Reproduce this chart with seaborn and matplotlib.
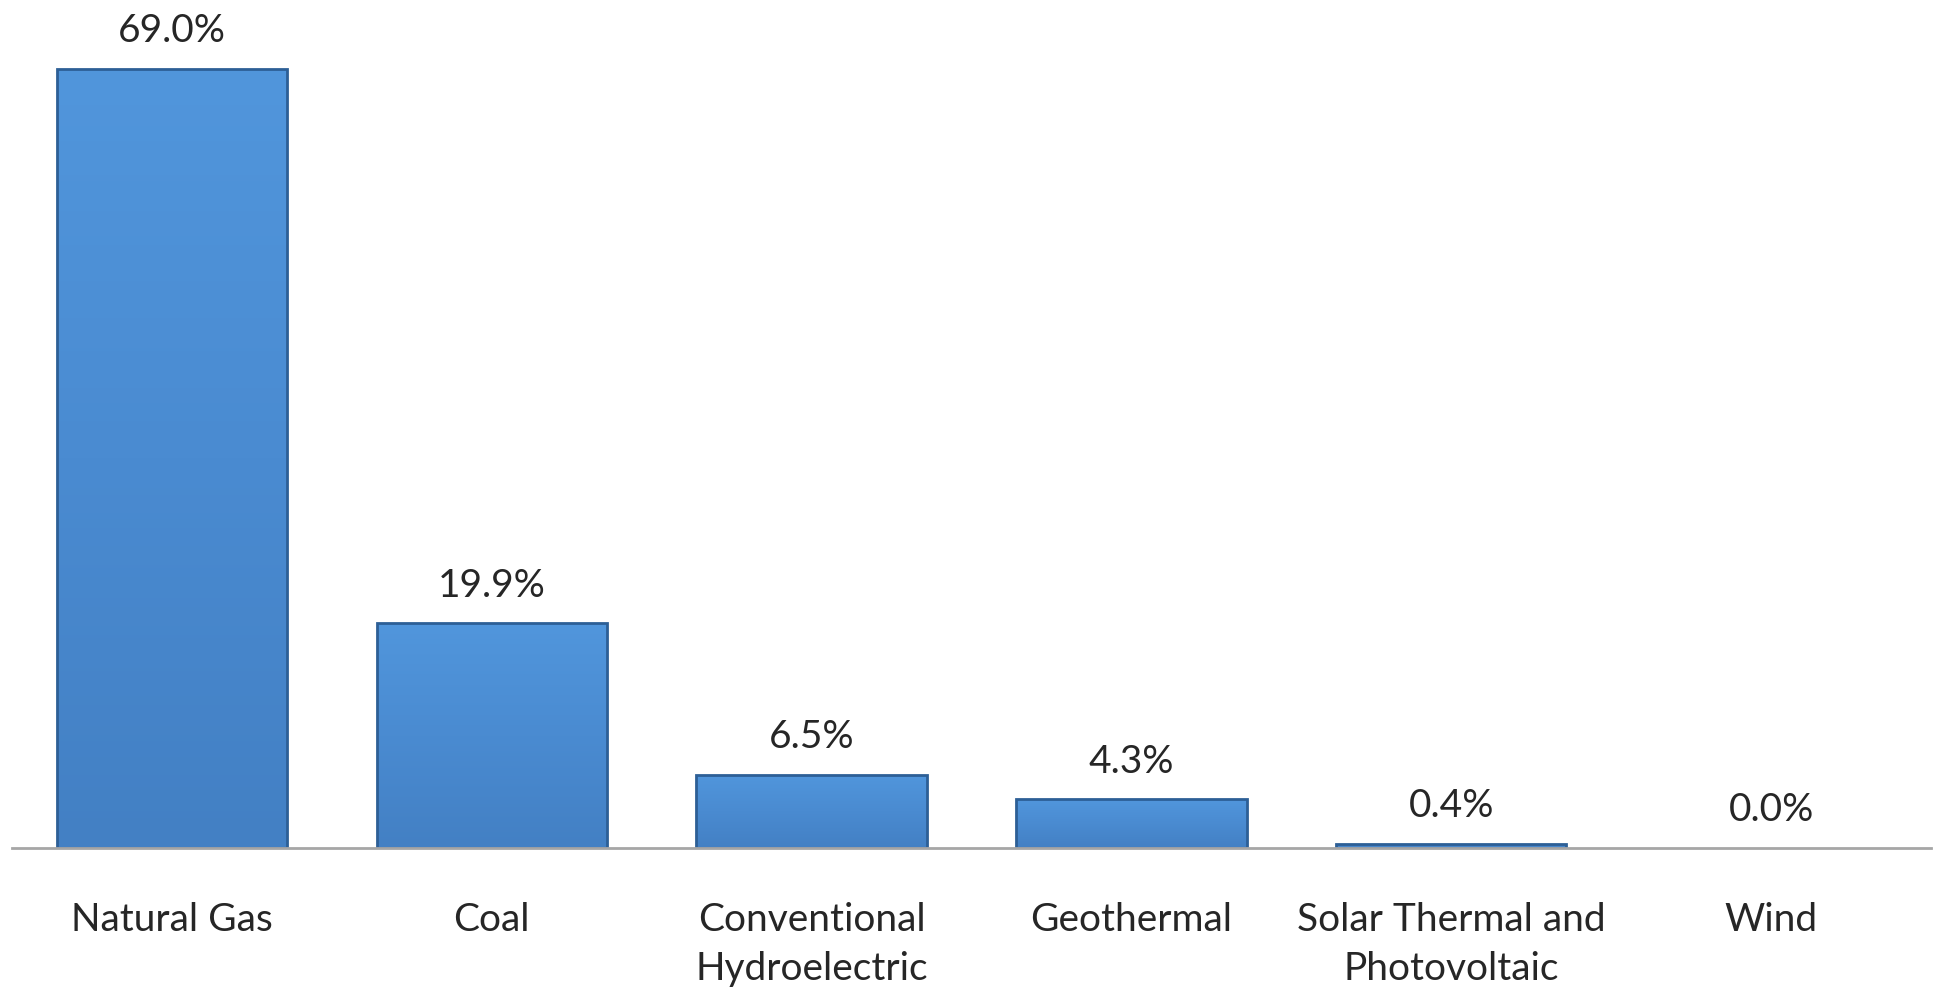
import matplotlib
matplotlib.use("Agg")
import matplotlib.pyplot as plt
import seaborn as sns
import pandas as pd
import numpy as np
from matplotlib.colors import LinearSegmentedColormap

categories = ["Natural Gas", "Coal", "Conventional\nHydroelectric", "Geothermal",
              "Solar Thermal and\nPhotovoltaic", "Wind"]
shares = [69.0, 19.9, 6.5, 4.3, 0.4, 0.0]

sns.set_theme(style="white")
plt.rcParams['font.family'] = ['Lato', 'DejaVu Sans']

df = pd.DataFrame({"source": categories, "share": shares})

fig = plt.figure(figsize=(19.38, 9.95), dpi=100)
ax = fig.add_axes([0.0062, 0.1467, 0.9902, 0.80])

sns.barplot(data=df, x="source", y="share", ax=ax, color="#4a8ad0",
            width=0.72, edgecolor="#2d5f96", linewidth=2, saturation=1)

ax.set_xlim(-0.5, 5.5)
ax.set_ylim(0, 70.5)

# subtle vertical gradient fill clipped to each bar
cmap = LinearSegmentedColormap.from_list("bev", ["#4380c4", "#4a8bd1", "#5196dc"])
grad = np.linspace(0, 1, 256).reshape(-1, 1)
for p in ax.patches:
    h = p.get_height()
    if h <= 0:
        p.set_linewidth(0)
        continue
    x0 = p.get_x()
    w = p.get_width()
    im = ax.imshow(grad, cmap=cmap, origin="lower", aspect="auto",
                   extent=[x0, x0 + w, 0, h], zorder=p.get_zorder() - 0.1)
    im.set_clip_path(p)
    p.set_facecolor("none")
ax.set_xlim(-0.5, 5.5)
ax.set_ylim(0, 70.5)

for c in ax.containers:
    ax.bar_label(c, labels=[f"{v:.1f}%" for v in shares], padding=15,
                 fontsize=28, color="#262626")

for s in ["top", "right", "left"]:
    ax.spines[s].set_visible(False)
ax.spines["bottom"].set_color("#a6a6a6")
ax.spines["bottom"].set_linewidth(2)
ax.spines["bottom"].set_zorder(5)
ax.set_yticks([])
ax.set_xlabel("")
ax.set_ylabel("")
ax.tick_params(axis="x", length=0, pad=38, labelsize=28, labelcolor="#262626")
for t in ax.get_xticklabels():
    t.set_linespacing(1.45)
    t.set_verticalalignment("top")

fig.savefig("out.png", dpi=100, facecolor="white")
